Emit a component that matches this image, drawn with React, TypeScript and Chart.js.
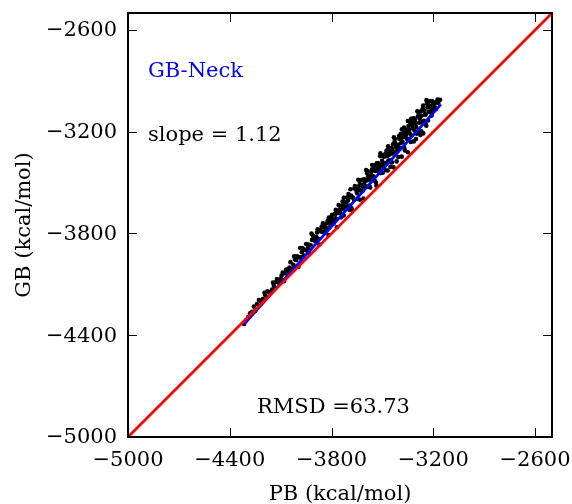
import React, { useEffect, useRef } from "react";
import { Chart, registerables } from "chart.js";

Chart.register(...registerables);

// ---- data ----
const AXIS_MIN = -5000;
const AXIS_MAX = -2500;
const TICK_VALUES = [-5000, -4400, -3800, -3200, -2600];

const PB_VALUES = [
  -4315, -4268, -4240, -4228, -4205, -4178, -4160, -4140, -4122, -4110,
  -4095, -4080, -4068, -4055, -4042, -4030, -4020, -4008, -3995, -3985,
  -3975, -3962, -3950, -3940, -3928, -3918, -3905, -3895, -3885, -3872,
  -3862, -3850, -3840, -3828, -3818, -3808, -3798, -3788, -3778, -3768,
  -3758, -3748, -3738, -3728, -3718, -3708, -3698, -3690, -3680, -3672,
  -3662, -3652, -3645, -3636, -3628, -3620, -3612, -3605, -3596, -3588,
  -3580, -3572, -3565, -3557, -3550, -3542, -3535, -3528, -3520, -3513,
  -3506, -3498, -3490, -3483, -3476, -3469, -3462, -3455, -3448, -3441,
  -3434, -3427, -3420, -3413, -3406, -3399, -3392, -3385, -3378, -3371,
  -3364, -3357, -3350, -3343, -3336, -3329, -3322, -3315, -3308, -3301,
  -3294, -3287, -3280, -3273, -3266, -3259, -3252, -3245, -3238, -3231,
  -3222, -3214, -3205, -3195, -3185, -3175, -3160,
  -4290, -4250, -4190, -4150, -4130, -4100, -4075, -4048, -4025, -4002,
  -3980, -3968, -3955, -3935, -3922, -3910, -3890, -3878, -3866, -3855,
  -3845, -3833, -3822, -3812, -3803, -3793, -3783, -3773, -3763, -3753,
  -3743, -3733, -3723, -3713, -3703, -3694, -3685, -3676, -3667, -3657,
  -3648, -3640, -3632, -3624, -3616, -3608, -3600, -3592, -3584, -3576,
  -3568, -3561, -3553, -3546, -3538, -3531, -3524, -3517, -3509, -3502,
  -3494, -3487, -3480, -3472, -3465, -3458, -3451, -3444, -3437, -3430,
  -3423, -3416, -3409, -3402, -3395, -3388, -3381, -3374, -3367, -3360,
  -3353, -3346, -3339, -3332, -3325, -3318, -3311, -3304, -3297, -3290,
  -3283, -3276, -3269, -3262, -3255, -3248, -3241, -3234, -3226, -3218,
  -3210, -3200, -3190, -3180,
  -4305, -4280, -4258, -4215, -4195, -4168, -4145, -4115, -4088, -4062,
  -4038, -4015, -3990, -3972, -3945, -3915, -3900, -3882, -3858, -3836,
  -3815, -3795, -3775, -3755, -3735, -3715, -3700, -3682, -3665, -3650,
  -3635, -3618, -3603, -3590, -3574, -3560, -3545, -3533, -3519, -3505,
  -3492, -3478, -3466, -3453, -3440, -3428, -3414, -3400, -3386, -3372,
  -3358, -3344, -3330, -3316, -3302, -3288, -3274, -3260, -3246, -3232,
  -3216, -3203, -3188, -3170,
  -3728, -3688, -3642, -3596, -3552, -3512, -3470, -3432, -3392, -3350,
  -3310, -3270, -3240,
];

const GB_VALUES = [
  -4334, -4262, -4216, -4192, -4187, -4141, -4151, -4109, -4069, -4090,
  -4049, -4082, -4014, -4024, -3969, -4011, -3935, -3956, -3997, -3886,
  -3910, -3930, -3862, -3886, -3917, -3801, -3826, -3845, -3794, -3865,
  -3788, -3740, -3789, -3740, -3809, -3738, -3692, -3741, -3690, -3763,
  -3632, -3676, -3635, -3694, -3633, -3586, -3635, -3586, -3660, -3591,
  -3520, -3554, -3596, -3516, -3547, -3483, -3594, -3496, -3526, -3432,
  -3483, -3529, -3437, -3473, -3400, -3431, -3518, -3400, -3436, -3344,
  -3396, -3442, -3348, -3385, -3312, -3429, -3337, -3369, -3296, -3328,
  -3410, -3243, -3285, -3312, -3349, -3236, -3268, -3186, -3233, -3295,
  -3187, -3239, -3321, -3189, -3146, -3223, -3180, -3257, -3130, -3172,
  -3079, -3206, -3123, -3080, -3143, -3210, -3077, -3099, -3031, -3134,
  -3054, -3080, -3020, -3043, -3067, -3011, -3012,
  -4291, -4257, -4165, -4130, -4088, -4069, -4036, -4001, -3985, -3935,
  -3940, -3892, -3897, -3865, -3870, -3812, -3820, -3831, -3778, -3791,
  -3764, -3776, -3724, -3763, -3718, -3726, -3685, -3714, -3678, -3657,
  -3705, -3654, -3613, -3642, -3606, -3661, -3576, -3586, -3601, -3539,
  -3564, -3535, -3601, -3513, -3524, -3480, -3521, -3487, -3463, -3524,
  -3465, -3422, -3463, -3425, -3501, -3419, -3386, -3418, -3444, -3371,
  -3387, -3335, -3427, -3343, -3370, -3317, -3329, -3381, -3274, -3321,
  -3273, -3375, -3277, -3225, -3297, -3239, -3261, -3208, -3310, -3218,
  -3245, -3167, -3209, -3261, -3164, -3121, -3193, -3150, -3212, -3109,
  -3147, -3219, -3106, -3063, -3135, -3098, -3165, -3057, -3083, -3019,
  -3105, -3034, -3058, -3027,
  -4313, -4270, -4231, -4203, -4150, -4145, -4090, -4076, -4031, -4012,
  -4010, -3954, -3941, -3886, -3901, -3838, -3841, -3776, -3759, -3764,
  -3706, -3714, -3661, -3679, -3612, -3619, -3567, -3652, -3533, -3542,
  -3490, -3551, -3484, -3445, -3462, -3396, -3489, -3386, -3395, -3340,
  -3410, -3329, -3286, -3407, -3302, -3259, -3293, -3242, -3347, -3176,
  -3200, -3245, -3124, -3144, -3243, -3087, -3107, -3046, -3155, -3040,
  -3047, -3067, -3026, -3030,
  -3589, -3539, -3483, -3426, -3422, -3327, -3306, -3233, -3213, -3137,
  -3122, -3197, -3014,
];

// blue regression line end points (PB, GB)
const FIT_PB = [-4315, -3155];
const FIT_GB = [-4334, -3039];

// red identity line
const DIAG_VALUES = [-5000, -2500];

const X_TITLE = "PB (kcal/mol)";
const Y_TITLE = "GB (kcal/mol)";
const MODEL_LABEL = "GB-Neck";
const SLOPE_LABEL = "slope = 1.12";
const RMSD_LABEL = "RMSD =63.73";

const FONT = "DejaVu Serif";

const fmt = (v: number) => (v < 0 ? "\u2212" + Math.abs(v) : String(v));

const framePlugin = {
  id: "frameAndText",
  afterDraw(chart: any) {
    const { ctx, chartArea: a, scales } = chart;
    const xs = scales.x;
    const ys = scales.y;
    ctx.save();
    // inward tick marks on all sides
    ctx.strokeStyle = "#000";
    ctx.lineWidth = 1;
    const TL = 9;
    TICK_VALUES.forEach((v) => {
      const px = Math.round(xs.getPixelForValue(v)) + 0.5;
      const py = Math.round(ys.getPixelForValue(v)) + 0.5;
      ctx.beginPath();
      ctx.moveTo(px, a.bottom);
      ctx.lineTo(px, a.bottom - TL);
      ctx.moveTo(px, a.top);
      ctx.lineTo(px, a.top + TL);
      ctx.moveTo(a.left, py);
      ctx.lineTo(a.left + TL, py);
      ctx.moveTo(a.right, py);
      ctx.lineTo(a.right - TL, py);
      ctx.stroke();
    });
    // frame
    ctx.lineWidth = 2;
    ctx.strokeRect(a.left, a.top, a.right - a.left, a.bottom - a.top);

    ctx.font = `21px "${FONT}"`;
    ctx.fillStyle = "#000";
    // tick labels
    ctx.textAlign = "right";
    ctx.textBaseline = "middle";
    TICK_VALUES.forEach((v) => {
      ctx.fillText(fmt(v), a.left - 11, ys.getPixelForValue(v) + 1);
    });
    ctx.textAlign = "center";
    ctx.textBaseline = "alphabetic";
    TICK_VALUES.forEach((v) => {
      ctx.fillText(fmt(v), xs.getPixelForValue(v), a.bottom + 29);
    });

    // annotations
    ctx.textAlign = "left";
    ctx.fillStyle = "#0000ff";
    ctx.fillText(MODEL_LABEL, a.left + 20, a.top + 64);
    ctx.fillStyle = "#000";
    ctx.fillText(SLOPE_LABEL, a.left + 20, a.top + 128);
    ctx.fillText(RMSD_LABEL, a.left + 129, a.bottom - 24);

    // axis titles
    ctx.textAlign = "center";
    ctx.fillText(X_TITLE, (a.left + a.right) / 2, 500);
    ctx.translate(30, (a.top + a.bottom) / 2);
    ctx.rotate(-Math.PI / 2);
    ctx.fillText(Y_TITLE, 0, 0);
    ctx.restore();
  },
};

export default function App() {
  const ref = useRef<HTMLCanvasElement | null>(null);

  useEffect(() => {
    if (!ref.current) return;
    const points = PB_VALUES.map((x, i) => ({ x, y: GB_VALUES[i] }));
    const fit = FIT_PB.map((x, i) => ({ x, y: FIT_GB[i] }));
    const diag = DIAG_VALUES.map((v) => ({ x: v, y: v }));

    const axisCommon = (isX: boolean) => ({
      type: "linear" as const,
      min: AXIS_MIN,
      max: AXIS_MAX,
      afterBuildTicks: (s: any) => {
        s.ticks = TICK_VALUES.map((v) => ({ value: v }));
      },
      afterFit: (s: any) => {
        if (isX) s.height = 67;
        else s.width = 128;
      },
      grid: { display: false, drawTicks: false },
      border: { display: false },
      ticks: { display: false },
    });

    const chart = new Chart(ref.current, {
      type: "scatter",
      data: {
        datasets: [
          {
            data: diag,
            showLine: true,
            borderColor: "#ff0000",
            borderWidth: 2.7,
            pointRadius: 0,
          },
          {
            data: fit,
            showLine: true,
            borderColor: "#0000ff",
            borderWidth: 2.8,
            pointRadius: 0,
          },
          {
            data: points,
            showLine: false,
            pointRadius: 2.3,
            pointBorderWidth: 0,
            pointBackgroundColor: "#000",
            pointBorderColor: "#000",
          },
        ],
      },
      options: {
        animation: false,
        responsive: false,
        devicePixelRatio: 1,
        layout: {
          autoPadding: false,
          padding: { top: 13, right: 20, left: 0, bottom: 0 },
        },
        plugins: {
          legend: { display: false },
          tooltip: { enabled: false },
          title: { display: false },
        },
        scales: {
          x: axisCommon(true),
          y: axisCommon(false),
        },
      },
      plugins: [framePlugin],
    } as any);
    return () => chart.destroy();
  }, []);

  return (
    <canvas
      ref={ref}
      width={572}
      height={504}
      style={{ position: "fixed", left: 0, top: 0, width: 572, height: 504, display: "block", background: "#fff" }}
    />
  );
}
